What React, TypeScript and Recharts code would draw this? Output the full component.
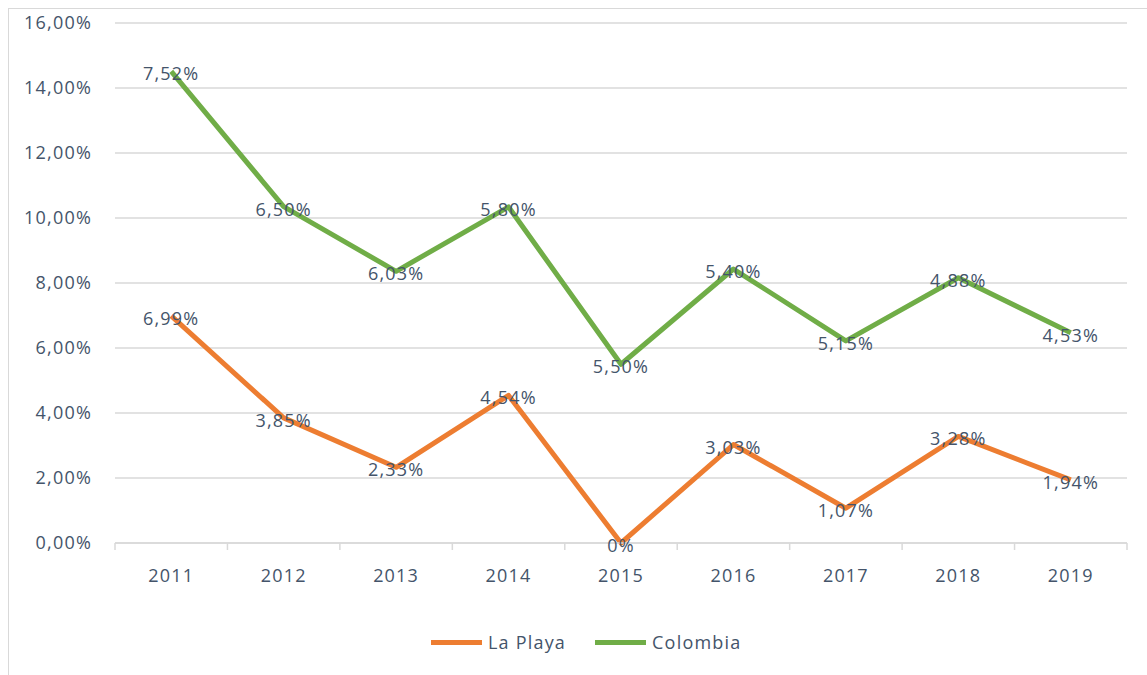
import { LineChart, Line, XAxis, YAxis, CartesianGrid, LabelList } from 'recharts';

const years = ['2011', '2012', '2013', '2014', '2015', '2016', '2017', '2018', '2019'];
const laPlaya = [6.99, 3.85, 2.33, 4.54, 0, 3.03, 1.07, 3.28, 1.94];
const colombia = [7.52, 6.5, 6.03, 5.8, 5.5, 5.4, 5.15, 4.88, 4.53];
const yTicks = [0, 2, 4, 6, 8, 10, 12, 14, 16];

// Colombia is drawn stacked on top of La Playa, labels show each own value
const data = years.map((year, i) => ({
  year,
  laPlaya: laPlaya[i],
  colombiaTop: laPlaya[i] + colombia[i],
}));

const FONT = '"Open Sans", sans-serif';
const TEXT = '#44546A';
const GRID = '#D9D9D9';
const ORANGE = '#ED7D31';
const GREEN = '#70AD47';

const W = 1130;
const H = 660;
const M = { top: 14, right: 12, left: 16, bottom: 86 };
const Y_AXIS_W = 90;
const X_AXIS_H = 40;
const BAND = (W - M.left - Y_AXIS_W - M.right) / years.length;
const AXIS_Y = H - M.bottom - X_AXIS_H;

function pct(v: number): string {
  return v.toFixed(2).replace('.', ',') + '%';
}

function pointLabel(values: number[]) {
  return (props: any) => {
    const { x, y, index } = props;
    const v = values[index];
    return (
      <text
        x={x}
        y={y}
        dy={2}
        textAnchor="middle"
        dominantBaseline="central"
        fill={TEXT}
        fontSize={18}
        fontFamily={FONT}
        letterSpacing={1.2}
      >
        {v === 0 ? '0%' : pct(v)}
      </text>
    );
  };
}

function YearTick(props: any) {
  const { x, y, payload, index } = props;
  return (
    <g>
      <line x1={x - BAND / 2} x2={x - BAND / 2} y1={AXIS_Y} y2={AXIS_Y + 7} stroke={GRID} strokeWidth={1.5} />
      {index === years.length - 1 && (
        <line x1={x + BAND / 2} x2={x + BAND / 2} y1={AXIS_Y} y2={AXIS_Y + 7} stroke={GRID} strokeWidth={1.5} />
      )}
      <text
        x={x}
        y={y}
        dy={6}
        textAnchor="middle"
        dominantBaseline="central"
        fill={TEXT}
        fontSize={18}
        fontFamily={FONT}
        letterSpacing={1.2}
      >
        {payload.value}
      </text>
    </g>
  );
}

function LegendItem({ color, label, gap }: { color: string; label: string; gap: number }) {
  return (
    <div style={{ display: 'flex', alignItems: 'center', marginRight: gap }}>
      <div style={{ width: 51, height: 5, background: color, marginRight: 6 }} />
      <span style={{ fontFamily: FONT, fontSize: 18, color: TEXT, letterSpacing: 1.2 }}>{label}</span>
    </div>
  );
}

export default function App() {
  return (
    <div
      style={{
        position: 'fixed',
        left: 8,
        top: 8,
        right: -10,
        bottom: -10,
        border: `1px solid ${GRID}`,
        background: '#fff',
      }}
    >
      <div style={{ position: 'absolute', left: 0, top: 0 }}>
        <LineChart width={W} height={H} data={data} margin={M}>
          <CartesianGrid vertical={false} stroke={GRID} strokeWidth={1.5} />
          <XAxis
            dataKey="year"
            height={X_AXIS_H}
            padding={{ left: BAND / 2, right: BAND / 2 }}
            axisLine={{ stroke: GRID, strokeWidth: 1.5 }}
            tickLine={false}
            tickSize={0}
            tickMargin={26}
            tick={<YearTick />}
            interval={0}
          />
          <YAxis
            width={Y_AXIS_W}
            domain={[0, 16]}
            ticks={yTicks}
            axisLine={false}
            tickLine={false}
            tickSize={0}
            tickMargin={23}
            tickFormatter={(v: number) => pct(v)}
            tick={{ fill: TEXT, fontSize: 18, fontFamily: FONT, letterSpacing: 1.2 }}
          />
          <Line
            dataKey="laPlaya"
            stroke={ORANGE}
            strokeWidth={5}
            dot={false}
            strokeLinejoin="round"
            isAnimationActive={false}
          >
            <LabelList dataKey="laPlaya" content={pointLabel(laPlaya)} />
          </Line>
          <Line
            dataKey="colombiaTop"
            stroke={GREEN}
            strokeWidth={5}
            dot={false}
            strokeLinejoin="round"
            isAnimationActive={false}
          >
            <LabelList dataKey="colombiaTop" content={pointLabel(colombia)} />
          </Line>
        </LineChart>
      </div>
      <div style={{ position: 'absolute', left: 422, top: 621, display: 'flex' }}>
        <LegendItem color={ORANGE} label="La Playa" gap={29} />
        <LegendItem color={GREEN} label="Colombia" gap={0} />
      </div>
    </div>
  );
}
